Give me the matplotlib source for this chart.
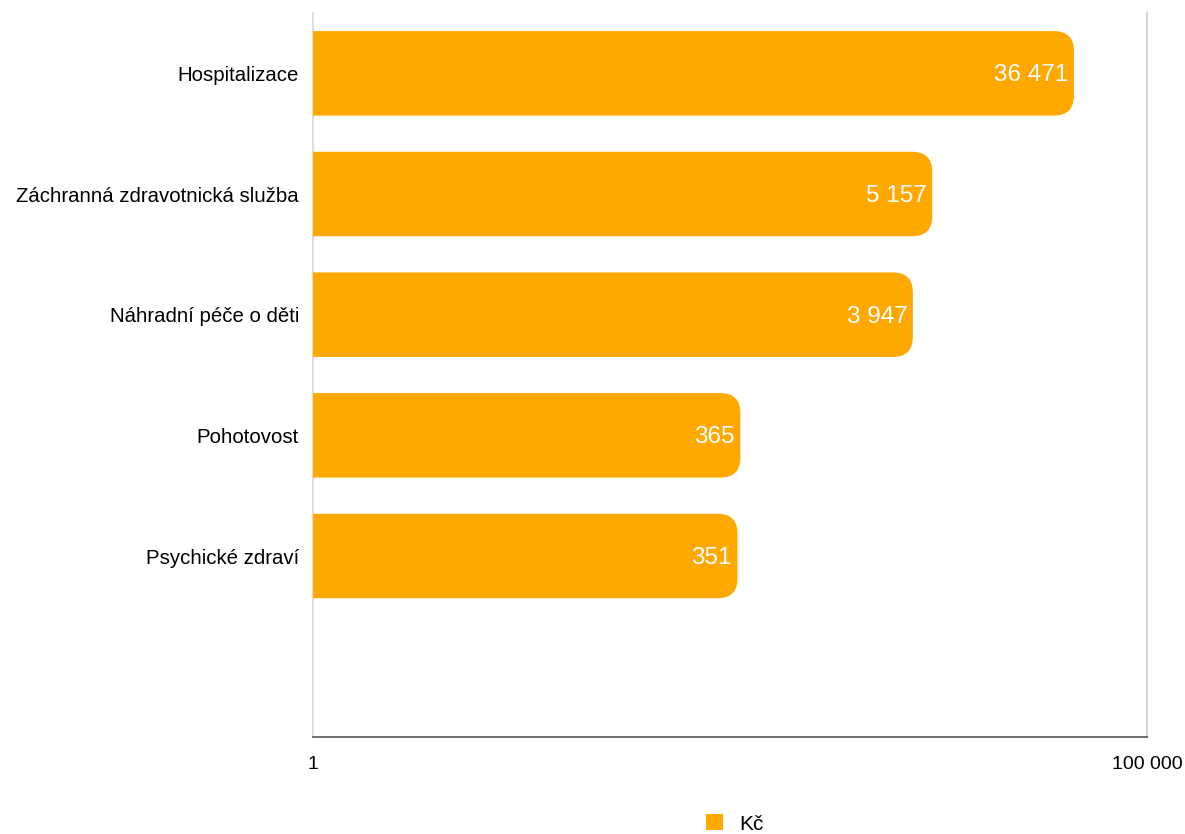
import matplotlib
matplotlib.use("Agg")
import matplotlib.pyplot as plt
from matplotlib.path import Path
from matplotlib.patches import PathPatch, Patch
from matplotlib.ticker import FuncFormatter

plt.rcParams['font.family'] = ['Liberation Sans', 'DejaVu Sans']

categories = ["Hospitalizace", "Záchranná zdravotnická služba", "Náhradní péče o děti",
              "Pohotovost", "Psychické zdraví"]
values = [36471, 5157, 3947, 365, 351]
series_name = "Kč"
x_ticks = [1, 100000]

ORANGE = "#ffa800"
W, H = 1185, 834


def fmt(v, pos=None):
    return f"{int(round(v)):,}".replace(",", " ")


fig = plt.figure(figsize=(W / 100, H / 100), dpi=100)
ax = fig.add_axes([313 / W, (H - 737) / H, (1147 - 313) / W, (737 - 13) / H])
ax.set_xscale("log")
ax.set_xlim(x_ticks[0], x_ticks[-1])
n_slots = len(categories) + 1
ax.set_ylim(n_slots - 0.5, -0.5)

# rounded right end bars built in display coords from the data transform
bar_h = 0.7
radius = 20
for i, v in enumerate(values):
    (x0, y0), (x1, y1) = ax.transData.transform([(x_ticks[0], i + bar_h / 2), (v, i - bar_h / 2)])
    verts = [(x0, y0), (x1 - radius, y0), (x1, y0), (x1, y0 + radius),
             (x1, y1 - radius), (x1, y1), (x1 - radius, y1), (x0, y1), (x0, y0)]
    codes = [Path.MOVETO, Path.LINETO, Path.CURVE3, Path.CURVE3,
             Path.LINETO, Path.CURVE3, Path.CURVE3, Path.LINETO, Path.CLOSEPOLY]
    ax.add_patch(PathPatch(Path(verts, codes), facecolor=ORANGE, edgecolor="none",
                           transform=None, zorder=3))
    ax.annotate(fmt(v), xy=(v, i), xytext=(-4, -1.5), textcoords="offset points",
                ha="right", va="center", color="white", fontsize=17.5, zorder=4)

ax.set_yticks(range(len(categories)))
ax.set_yticklabels(categories, fontsize=14.7)
ax.set_xticks(x_ticks)
ax.xaxis.set_major_formatter(FuncFormatter(fmt))
ax.xaxis.set_minor_locator(matplotlib.ticker.NullLocator())
ax.tick_params(axis="x", length=0, pad=14, labelsize=14)
ax.tick_params(axis="y", length=0, pad=10)

ax.axvline(x_ticks[0], color="#dddddd", lw=1.5, zorder=1, clip_on=False)
ax.axvline(x_ticks[-1], color="#cccccc", lw=1.2, zorder=1, clip_on=False)
for s in ["top", "right", "left"]:
    ax.spines[s].set_visible(False)
ax.spines["bottom"].set_color("#555555")
ax.spines["bottom"].set_linewidth(1.2)

fig.legend(handles=[Patch(facecolor=ORANGE, label=series_name)], loc="lower center",
           bbox_to_anchor=(735 / W, -0.022), frameon=False, fontsize=15,
           handlelength=0.8, handleheight=0.8, handletextpad=0.8)

fig.savefig("out.png", dpi=100)
